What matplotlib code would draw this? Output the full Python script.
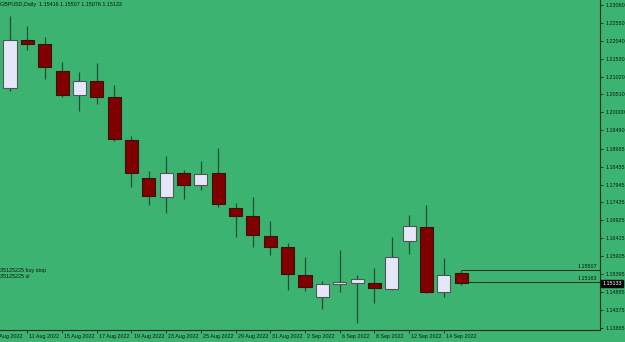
import matplotlib
matplotlib.use('Agg')
import matplotlib.pyplot as plt
import matplotlib.transforms as mtransforms
import numpy as np

# ── Data (GBPUSD daily, 10 Aug – 15 Sep 2022) ─────────────────────────────────
opens  = [1.20695, 1.22063, 1.21949, 1.21180, 1.20496, 1.20895, 1.20439, 1.19214, 1.18131,
          1.17590, 1.18274, 1.17932, 1.18274, 1.17277, 1.17049, 1.16479, 1.16165, 1.15368,
          1.14741, 1.15111, 1.15140, 1.15140, 1.14969, 1.16336, 1.16735, 1.14883, 1.15416]
highs  = [1.22747, 1.22462, 1.22148, 1.21436, 1.21151, 1.21408, 1.20781, 1.19328, 1.18331,
          1.18758, 1.18359, 1.18616, 1.18986, 1.17419, 1.17590, 1.16906, 1.16279, 1.15880,
          1.15197, 1.16080, 1.15368, 1.15567, 1.16450, 1.17077, 1.17362, 1.15852, 1.15507]
lows   = [1.20610, 1.21778, 1.20952, 1.20439, 1.20040, 1.20239, 1.19185, 1.17875, 1.17362,
          1.17134, 1.17533, 1.17789, 1.17305, 1.16450, 1.16165, 1.15938, 1.14940, 1.14912,
          1.14399, 1.14883, 1.14000, 1.14570, 1.14940, 1.15966, 1.14855, 1.14741, 1.15076]
closes = [1.22063, 1.21949, 1.21294, 1.20496, 1.20895, 1.20439, 1.19242, 1.18274, 1.17618,
          1.18274, 1.17932, 1.18245, 1.17391, 1.17049, 1.16507, 1.16165, 1.15396, 1.15026,
          1.15111, 1.15168, 1.15254, 1.14997, 1.15880, 1.16764, 1.14883, 1.15368, 1.15133]

date_ticks  = [-1, 1, 3, 5, 7, 9, 11, 13, 15, 17, 19, 21, 23, 25]
date_labels = ['9 Aug 2022', '11 Aug 2022', '15 Aug 2022', '17 Aug 2022', '19 Aug 2022',
               '23 Aug 2022', '25 Aug 2022', '29 Aug 2022', '31 Aug 2022', '2 Sep 2022',
               '6 Sep 2022', '8 Sep 2022', '12 Sep 2022', '14 Sep 2022']
price_ticks = [1.23060, 1.22550, 1.22040, 1.21530, 1.21020, 1.20510, 1.20000, 1.19490,
               1.18965, 1.18455, 1.17945, 1.17435, 1.16925, 1.16415, 1.15905, 1.15395,
               1.14885, 1.14375, 1.13865]

order_levels = [1.15507, 1.15163]
order_names  = ['#35125225 buy stop', '#35125225 sl']
last_price   = 1.15133
title        = 'GBPUSD,Daily  1.15416 1.15507 1.15076 1.15133'

# ── Style ─────────────────────────────────────────────────────────────────────
BG   = '#3cb371'
BULL = '#e6e6fa'
BEAR = '#800000'
WICK = '#1f4f35'
INK  = '#0c1a10'
FS   = 3.9
plt.rcParams['font.family'] = ['Liberation Sans', 'DejaVu Sans']

fig = plt.figure(figsize=(6.25, 3.42), dpi=100)
fig.patch.set_facecolor(BG)
ax = fig.add_axes([0, 12 / 342, 600 / 625, 330 / 342])
ax.set_facecolor(BG)

o = np.array(opens); h = np.array(highs); l = np.array(lows); c = np.array(closes)
x = np.arange(len(o))
up = c >= o

ax.vlines(x, l, h, color=WICK, lw=0.9, zorder=2)
bottoms = np.minimum(o, c)
heights = np.maximum(np.abs(c - o), 0.00006)
ax.bar(x[up], heights[up], bottom=bottoms[up], width=0.75,
       color=BULL, edgecolor='#555555', linewidth=0.8, zorder=3)
ax.bar(x[~up], heights[~up], bottom=bottoms[~up], width=0.75,
       color=BEAR, edgecolor='#3a1010', linewidth=0.8, zorder=3)

ax.set_xlim(-0.576, 34.0)
ax.set_ylim(1.13801, 1.23202)

# ── Order lines ───────────────────────────────────────────────────────────────
ax.hlines(order_levels, x[-1], 34.0, color='#12301f', lw=0.7, zorder=1)
for lvl in order_levels:
    ax.text(0.995, lvl + 0.0002, f'{lvl:.5f}', transform=ax.get_yaxis_transform(),
            ha='right', va='bottom', fontsize=FS, color=INK)
for i, name in enumerate(order_names):
    ax.annotate(name, xy=(0, order_levels[0]), xycoords=('axes fraction', 'data'),
                xytext=(-2.0, -4.5 * i), textcoords='offset points',
                ha='left', va='center', fontsize=FS, color=INK)

# ── Axes ──────────────────────────────────────────────────────────────────────
for s in ['top', 'left']:
    ax.spines[s].set_visible(False)
for s in ['right', 'bottom']:
    ax.spines[s].set_color('#12301f')
    ax.spines[s].set_linewidth(0.8)

ax.yaxis.tick_right()
ax.set_yticks(price_ticks)
ax.set_yticklabels([f'{p:.5f}' for p in price_ticks])
ax.tick_params(axis='y', direction='out', length=2.5, width=0.6, colors='#12301f',
               labelsize=FS, labelcolor=INK, pad=1.2)

ax.set_xticks([t for t in date_ticks if t >= 0])
ax.set_xticklabels([])
ax.tick_params(axis='x', direction='out', length=2.5, width=0.6, colors='#12301f')
trans = mtransforms.blended_transform_factory(ax.transData, ax.transAxes)
for t, lab in zip(date_ticks, date_labels):
    ax.text(t + 0.12, -0.013, lab, transform=trans, ha='left', va='top',
            fontsize=FS, color=INK, clip_on=False)

# current price tag
ax.text(1.004, last_price, f'{last_price:.5f}', transform=ax.get_yaxis_transform(),
        ha='left', va='center', fontsize=FS, color='white', clip_on=False,
        bbox=dict(boxstyle='square,pad=0.2', fc='black', ec='black'))

ax.text(0.0, 0.995, title, transform=ax.transAxes, ha='left', va='top',
        fontsize=FS, color=INK)

fig.savefig('out.png', dpi=100, facecolor=BG)
